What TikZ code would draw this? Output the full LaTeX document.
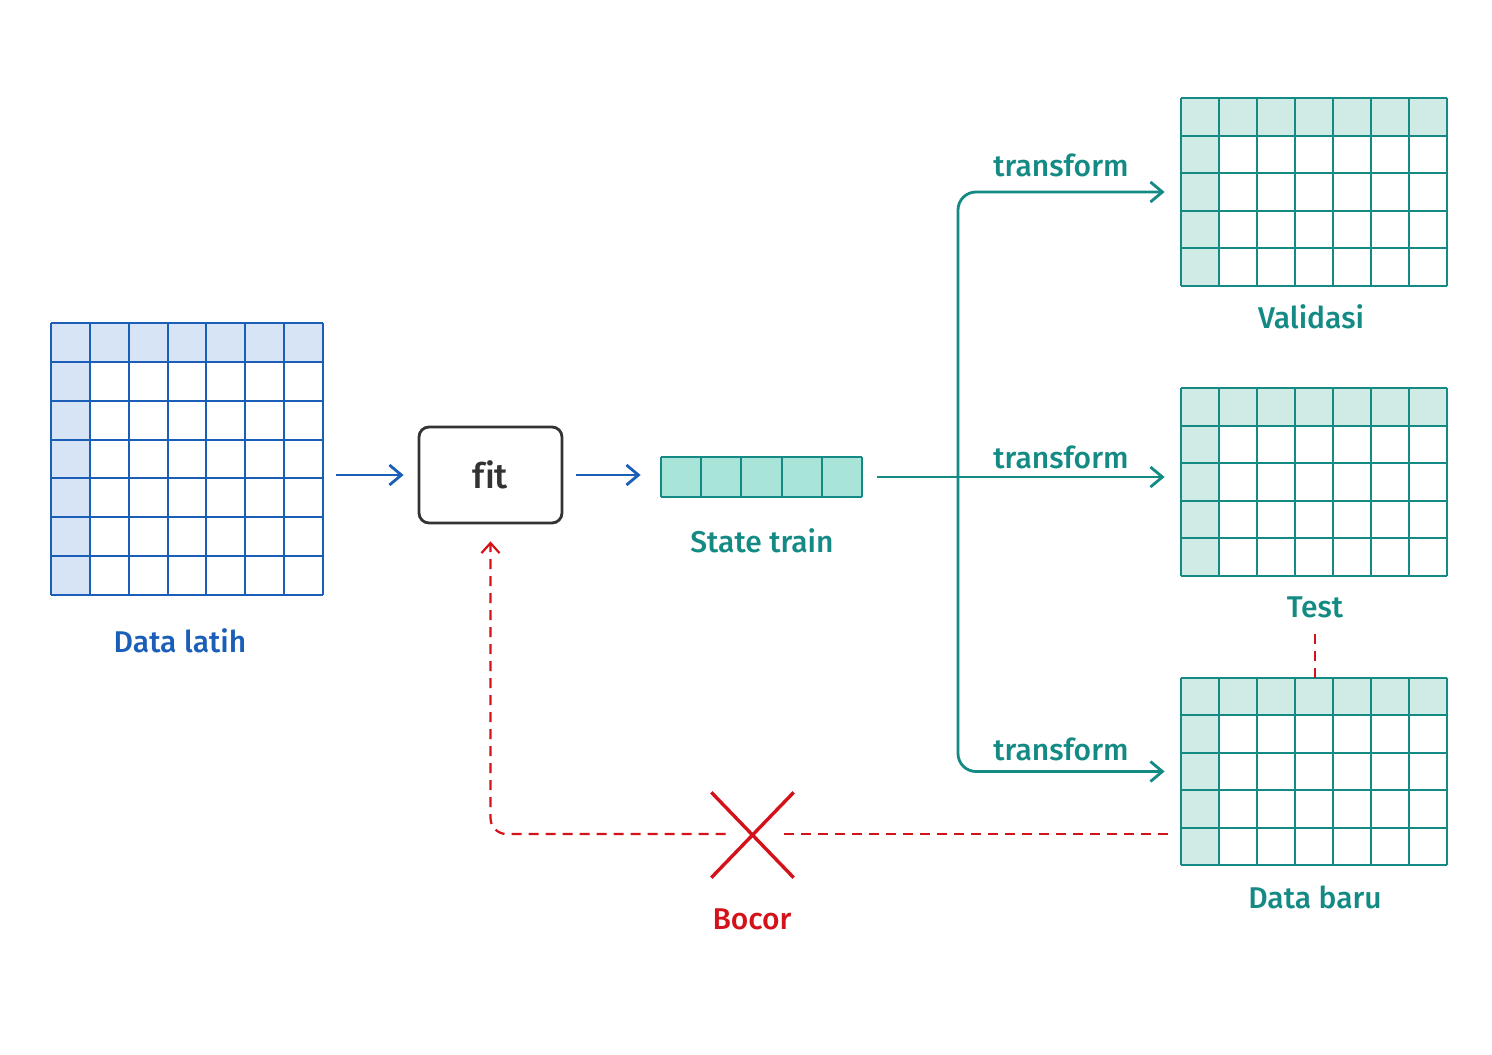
\documentclass[tikz,border=0pt]{standalone}
\usepackage{fontspec}
\setmainfont{Fira Sans}[UprightFont={* Medium}, Ligatures=NoCommon]
\usetikzlibrary{arrows.meta,fit,shapes.misc}
\definecolor{cblue}{HTML}{1A5EB8}
\definecolor{cbluefill}{HTML}{D6E4F5}
\definecolor{cteal}{HTML}{148A85}
\definecolor{ctealfill}{HTML}{D0EAE6}
\definecolor{cmint}{HTML}{A8E5D8}
\definecolor{cred}{HTML}{D4121A}
\definecolor{cdark}{HTML}{333333}
\tikzset{
  lbl/.style={font=\fontsize{15}{18}\selectfont, inner sep=0pt, anchor=center},
  barrow/.style={draw=cblue, line width=1.4pt, -{Straight Barb[length=6pt,width=10pt]}},
  tline/.style={draw=cteal, line width=1.4pt},
  tarrow/.style={tline, -{Straight Barb[length=6pt,width=10pt]}},
  rdash/.style={draw=cred, line width=1.1pt, dash pattern=on 5pt off 3.5pt},
}
\newcommand\mkgrid[9]{% name, x0, y0, x1, y1, cols, rows, line color, fill color
  \fill[#9] (#2,#3) rectangle (#4,{#3+(#5-#3)/#7});
  \fill[#9] (#2,#3) rectangle ({#2+(#4-#2)/#6},#5);
  \foreach \i in {0,...,#6} \draw[#8, line width=1pt] ({#2+(#4-#2)*\i/#6},#3) -- ({#2+(#4-#2)*\i/#6},#5);
  \foreach \j in {0,...,#7} \draw[#8, line width=1pt] (#2,{#3+(#5-#3)*\j/#7}) -- (#4,{#3+(#5-#3)*\j/#7});
  \coordinate (#1-nw) at (#2,#3);
  \coordinate (#1-se) at (#4,#5);
  \node[fit=(#1-nw)(#1-se), inner sep=0pt] (#1) {};
}
\begin{document}
\begin{tikzpicture}[x=0.5pt,y=-0.5pt]
\useasboundingbox[fill=white] (0,0) rectangle (1492,1054);

% grids
\mkgrid{latih}{51}{323}{323}{595}{7}{7}{cblue}{cbluefill}
\mkgrid{valid}{1181}{98}{1447}{286}{7}{5}{cteal}{ctealfill}
\mkgrid{test}{1181}{388}{1447}{576}{7}{5}{cteal}{ctealfill}
\mkgrid{baru}{1181}{678}{1447}{865}{7}{5}{cteal}{ctealfill}

% state train
\fill[cmint] (661,457) rectangle (862,497);
\foreach \i in {0,...,5} \draw[cteal, line width=1pt] ({661+201*\i/5},457) -- ({661+201*\i/5},497);
\draw[cteal, line width=1pt] (661,457) -- (862,457) (661,497) -- (862,497);
\coordinate (st-nw) at (661,457);
\coordinate (st-se) at (862,497);
\node[fit=(st-nw)(st-se), inner sep=0pt] (state) {};

% fit box
\node[draw=cdark, line width=1.4pt, rounded corners=5pt, minimum width=71.5pt, minimum height=48pt,
      inner sep=0pt, text=cdark, font=\fontsize{17.5}{20}\selectfont] (fitbox) at (490.5,475) {fit};

% labels
\node[lbl, text=cblue] (latihlbl) at (180,641) {Data latih};
\node[lbl, text=cteal] (statelbl) at (762,541) {State train};
\node[lbl, text=cteal] (validlbl) at (1311,317) {Validasi};
\node[lbl, text=cteal] (testlbl) at (1315,607) {Test};
\node[lbl, text=cteal] (barulbl) at (1315,897) {Data baru};
\node[lbl, text=cteal] (tf1) at (1061,165) {transform};
\node[lbl, text=cteal] (tf2) at (1061,457) {transform};
\node[lbl, text=cteal] (tf3) at (1061,749) {transform};
\node[lbl, text=cred] (bocorlbl) at (752,919) {Bocor};

% blue arrows
\draw[barrow, shorten <=6.5pt, shorten >=7pt] (latih.east |- fitbox.west) -- (fitbox.west);
\draw[barrow, shorten <=6.5pt, shorten >=10pt] (fitbox.east) -- (fitbox.east -| state.west);

% teal trunk
\coordinate (trunk) at (958,477);
\draw[tline, shorten <=7.5pt] (state.east |- trunk) -- (trunk);
\draw[tarrow, rounded corners=9pt, shorten >=8pt] (trunk) |- (valid.west);
\draw[tarrow, shorten >=8pt] (trunk) -- (trunk -| test.west);
\draw[tarrow, rounded corners=9pt, shorten >=8pt] (trunk) |- (baru.west);

% leak
\node[cross out, draw=cred, line width=1.7pt, minimum width=39.5pt, minimum height=41pt, inner sep=0pt] (cross) at (752.5,835) {};
\coordinate (leakstart) at (1168,834);
\draw[rdash, shorten >=14pt] (leakstart) -- (cross.center |- leakstart);
\draw[rdash, rounded corners=8pt, shorten <=13.5pt, shorten >=8.5pt, -{Straight Barb[length=5pt,width=9pt]}]
  (cross.center |- leakstart) -| (fitbox.south);
\draw[rdash] ([yshift=-8pt]testlbl.south) -- (testlbl.south |- baru.north);
\end{tikzpicture}
\end{document}
